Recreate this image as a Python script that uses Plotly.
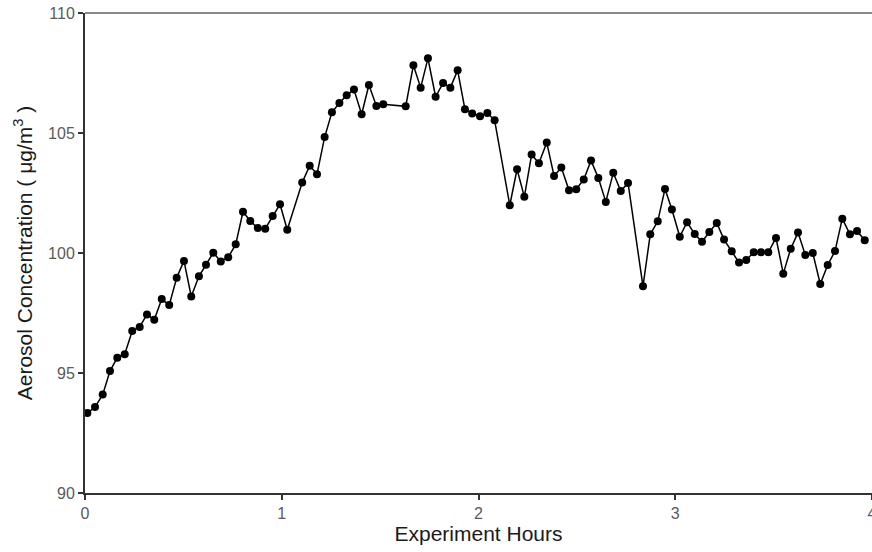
import plotly.graph_objects as go

hours = [0.012, 0.051, 0.090, 0.127, 0.164, 0.202, 0.240, 0.278, 0.315, 0.352,
         0.390, 0.428, 0.466, 0.503, 0.540, 0.579, 0.615, 0.652, 0.690, 0.728,
         0.766, 0.803, 0.840, 0.878, 0.916, 0.954, 0.991, 1.028,
         1.104, 1.142, 1.179, 1.218, 1.255, 1.293, 1.330, 1.367, 1.406, 1.443,
         1.481, 1.516,
         1.630, 1.669, 1.706, 1.743, 1.782, 1.820, 1.857, 1.894, 1.931, 1.968,
         2.008, 2.045, 2.082,
         2.159, 2.196, 2.233, 2.270, 2.307, 2.347, 2.384, 2.421, 2.460, 2.497,
         2.535, 2.572, 2.609, 2.647, 2.685, 2.723, 2.760,
         2.836, 2.873, 2.911, 2.948, 2.983, 3.023, 3.060, 3.099, 3.136, 3.173,
         3.211, 3.248, 3.287, 3.324, 3.361, 3.399, 3.436, 3.473, 3.512, 3.549,
         3.587, 3.624, 3.661, 3.699, 3.737, 3.775, 3.812, 3.849, 3.888, 3.924,
         3.963]

concentration = [93.33, 93.58, 94.10, 95.08, 95.64, 95.78, 96.75, 96.92, 97.44, 97.22,
                 98.08, 97.83, 98.97, 99.67, 98.19, 99.03, 99.51, 100.01, 99.65, 99.82,
                 100.36, 101.72, 101.33, 101.04, 101.01, 101.54, 102.03, 100.97,
                 102.94, 103.64, 103.28, 104.83, 105.86, 106.25, 106.57, 106.81, 105.78, 107.00,
                 106.13, 106.20,
                 106.11, 107.82, 106.89, 108.11, 106.51, 107.08, 106.89, 107.61, 105.99, 105.81,
                 105.70, 105.83, 105.53,
                 101.99, 103.49, 102.34, 104.10, 103.74, 104.60, 103.21, 103.56, 102.61, 102.66,
                 103.06, 103.85, 103.13, 102.13, 103.34, 102.58, 102.92,
                 98.61, 100.78, 101.32, 102.67, 101.81, 100.68, 101.28, 100.79, 100.47, 100.87,
                 101.25, 100.56, 100.07, 99.60, 99.71, 100.03, 100.03, 100.03, 100.63, 99.14,
                 100.18, 100.85, 99.92, 100.00, 98.71, 99.50, 100.08, 101.43, 100.78, 100.92,
                 100.53]

x_ticks = [0, 1, 2, 3, 4]
y_ticks = [90, 95, 100, 105, 110]

fig = go.Figure()
fig.add_trace(go.Scatter(
    x=hours, y=concentration, mode="lines+markers",
    line=dict(color="black", width=1.5),
    marker=dict(color="black", size=8),
    showlegend=False,
    cliponaxis=False,
))

axis_font = dict(family="Liberation Sans, Arial, sans-serif", size=16, color="#5a5a5a")
title_font = dict(family="Liberation Sans, Arial, sans-serif", size=21, color="#1a1a1a")

fig.update_layout(
    width=872, height=552,
    margin=dict(l=85, r=0, t=13, b=59),
    paper_bgcolor="white", plot_bgcolor="white",
    xaxis=dict(
        range=[0, 4], tickvals=x_ticks, ticktext=[str(t) for t in x_ticks],
        showgrid=False, zeroline=False, automargin=False,
        showline=True, linecolor="#333333", linewidth=2,
        ticks="outside", ticklen=5, tickwidth=1.5, tickcolor="#333333",
        tickfont=axis_font, ticklabeloverflow="allow",
        title=dict(text="Experiment Hours", font=title_font, standoff=4),
    ),
    yaxis=dict(
        range=[90, 110], tickvals=y_ticks, ticktext=[str(t) for t in y_ticks],
        showgrid=False, zeroline=False, automargin=False,
        showline=True, linecolor="#333333", linewidth=2,
        ticks="outside", ticklen=5, tickwidth=1.5, tickcolor="#333333",
        tickfont=axis_font,
        title=dict(text="Aerosol Concentration ( μg/m<sup>3</sup> )", font=title_font, standoff=10),
    ),
    shapes=[dict(type="line", xref="paper", yref="paper", x0=0, x1=1, y0=1, y1=1,
                 line=dict(color="#888888", width=2))],
)

fig.write_html("out.html")
